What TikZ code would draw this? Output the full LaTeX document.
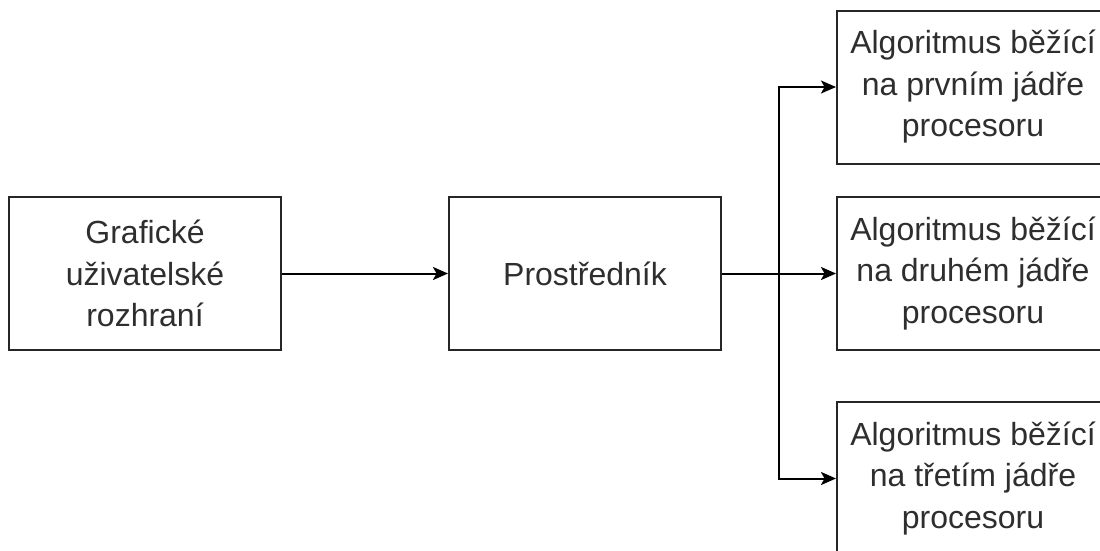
\documentclass[tikz,border=0pt]{standalone}
\usepackage{fontspec}
\setmainfont{Liberation Sans}
\usetikzlibrary{arrows.meta}
\begin{document}
\begin{tikzpicture}[x=1pt,y=-1pt,
  box/.style={draw=black!85, line width=2pt, minimum width=272pt, minimum height=153pt,
    align=center, font=\fontsize{32}{41.5}\selectfont, text=black!82, inner sep=0pt},
  conn/.style={draw=black, line width=2pt, -{Stealth[length=15pt,width=13pt,inset=3.5pt]}},
  plain/.style={draw=black, line width=2pt}]
\useasboundingbox (0,0) rectangle (1100,550);
\clip (0,0) rectangle (1100,550);
\node[box] (gui) at (145,273.5) {Grafické\\uživatelské\\rozhraní};
\node[box] (mid) at (585,273.5) {Prostředník};
\node[box] (t1) at (973,87) {Algoritmus běžící\\na prvním jádře\\procesoru};
\node[box] (t2) at (973,273.5) {Algoritmus běžící\\na druhém jádře\\procesoru};
\node[box] (t3) at (973,478.5) {Algoritmus běžící\\na třetím jádře\\procesoru};
\coordinate (br) at (779,273.5);
\draw[conn] (gui.east) -- (mid.west);
\draw[plain] (mid.east) -- (br);
\draw[conn] (br) |- (t1.west);
\draw[conn] (br) -- (t2.west);
\draw[conn] (br) |- (t3.west);
\end{tikzpicture}
\end{document}
